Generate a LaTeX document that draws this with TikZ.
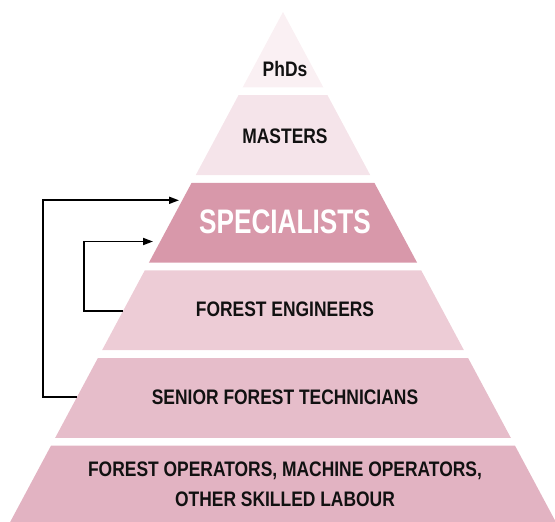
\documentclass[tikz,border=0pt]{standalone}
\usepackage{fontspec}
\usetikzlibrary{arrows.meta}
\newfontfamily\pyrfont{Liberation Sans}[FakeStretch=0.83]
\newfontfamily\pyrfontbig{Liberation Sans}[FakeStretch=0.77]
\definecolor{tierA}{HTML}{FAF0F3}
\definecolor{tierB}{HTML}{F5E4EA}
\definecolor{tierC}{HTML}{D898AA}
\definecolor{tierD}{HTML}{EDCCD6}
\definecolor{tierE}{HTML}{E6BDCA}
\definecolor{tierF}{HTML}{E2B3C2}
\definecolor{txt}{HTML}{111111}
\begin{document}
\begin{tikzpicture}[x=1pt,y=-1pt,
  lbl/.style={anchor=base,inner sep=0pt,text=txt,font=\pyrfont\bfseries\fontsize{21}{30}\selectfont,align=center},
  biglbl/.style={anchor=base,inner sep=0pt,text=white,font=\pyrfontbig\bfseries\fontsize{34}{38}\selectfont},
  link/.style={line width=1.8pt,-{Triangle[length=10pt,width=7pt]}}]
\useasboundingbox (0,0) rectangle (555,522);
\clip (0,0) rectangle (555,522);
% tiers
\fill[tierA] (283,12) -- (323.34,87.4) -- (242.66,87.4) -- cycle;
\fill[tierB] (238.6,95) -- (327.4,95) -- (370.31,175.2) -- (195.69,175.2) -- cycle;
\fill[tierC] (191.62,182.8) -- (374.38,182.8) -- (417.07,262.6) -- (148.93,262.6) -- cycle;
\fill[tierD] (144.76,270.4) -- (421.24,270.4) -- (463.94,350.2) -- (102.06,350.2) -- cycle;
\fill[tierE] (97.89,358) -- (468.11,358) -- (510.8,437.8) -- (55.2,437.8) -- cycle;
\fill[tierF] (51.02,445.6) -- (514.98,445.6) -- (555.85,522) -- (10.15,522) -- cycle;
% labels
\node[lbl] (phd) at (285,76) {PhDs};
\node[lbl] (mas) at (285,143.3) {MASTERS};
\node[biglbl] (spe) at (285,233.3) {SPECIALISTS};
\node[lbl] (eng) at (285,316.7) {FOREST ENGINEERS};
\node[lbl] (sen) at (285,404.3) {SENIOR FOREST TECHNICIANS};
\node[lbl] (op1) at (285,476.7) {FOREST OPERATORS, MACHINE OPERATORS,};
\node[lbl] (op2) at (285,506.7) {OTHER SKILLED LABOUR};
% connector end points
\coordinate (senL) at (76.9,397.3);
\coordinate (outerB) at (43.3,397.3);
\coordinate (outerT) at (43.3,200.3);
\coordinate (speO) at (179,200.3);
\coordinate (engL) at (123,311);
\coordinate (innerB) at (84.3,311);
\coordinate (innerT) at (84.3,241.5);
\coordinate (speI) at (153,241.5);
\draw[link] (senL) -- (outerB) -- (outerT) -- (speO);
\draw[link] (engL) -- (innerB) -- (innerT) -- (speI);
\end{tikzpicture}
\end{document}
